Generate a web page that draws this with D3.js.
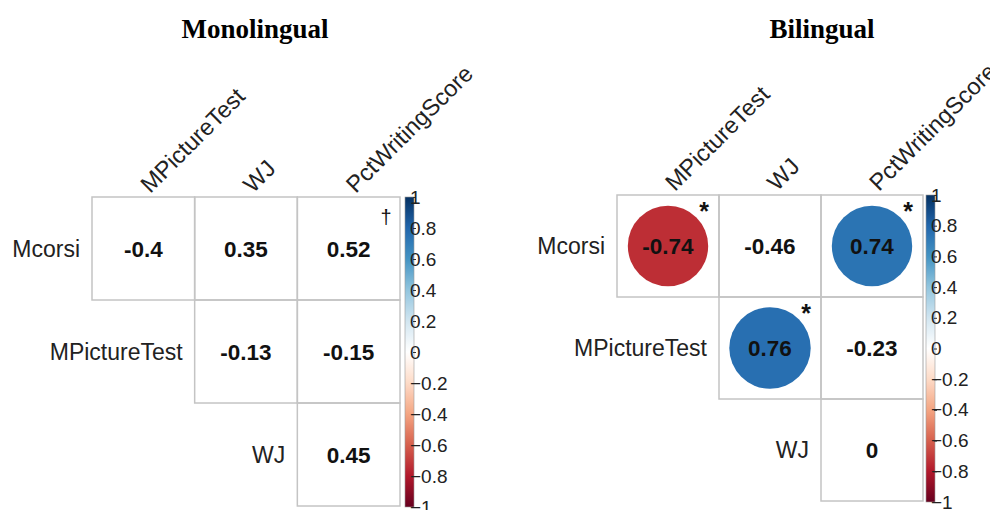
<!DOCTYPE html>
<html>
<head>
<meta charset="utf-8">
<script src="https://cdn.jsdelivr.net/npm/d3@7"></script>
<style>
  html, body { margin: 0; padding: 0; background: #fff; }
  svg { display: block; }
</style>
</head>
<body>
<svg id="chart" width="990" height="510"></svg>
<script>
// Correlation matrices (upper triangle) for the two groups
const rowVars = ["Mcorsi", "MPictureTest", "WJ"];
const colVars = ["MPictureTest", "WJ", "PctWritingScore"];

const monoValues = [
  [-0.4, 0.35, 0.52],
  [null, -0.13, -0.15],
  [null, null, 0.45]
];
const monoMarks = [
  ["", "", "†"],
  ["", "", ""],
  ["", "", ""]
];

const biValues = [
  [-0.74, -0.46, 0.74],
  [null, 0.76, -0.23],
  [null, null, 0]
];
const biMarks = [
  ["*", "", "*"],
  ["", "*", ""],
  ["", "", ""]
];

const legendTicks = [1, 0.8, 0.6, 0.4, 0.2, 0, -0.2, -0.4, -0.6, -0.8, -1];
const rdbu = ["#67001F", "#B2182B", "#D6604D", "#F4A582", "#FDDBC7", "#FFFFFF",
              "#D1E5F0", "#92C5DE", "#4393C3", "#2166AC", "#053061"];

const color = d3.scaleLinear()
  .domain(d3.range(11).map(i => -1 + i * 0.2))
  .range(rdbu)
  .interpolate(d3.interpolateRgb);

const svg = d3.select("#chart");
const sans = "'Liberation Sans', Arial, Helvetica, sans-serif";

// shared colour gradient for the legend bars
const defs = svg.append("defs");
const grad = defs.append("linearGradient")
  .attr("id", "corrGrad")
  .attr("x1", 0).attr("y1", 1).attr("x2", 0).attr("y2", 0);
d3.range(41).forEach(i => {
  const t = i / 40;
  grad.append("stop").attr("offset", t).attr("stop-color", color(-1 + 2 * t));
});

function panel(opts) {
  const { title, titleX, x0, x1, y0, y1, barX, values, marks } = opts;
  const g = svg.append("g");

  const x = d3.scaleBand().domain(colVars).range([x0, x1]);
  const y = d3.scaleBand().domain(rowVars).range([y0, y1]);
  const cw = x.bandwidth(), ch = y.bandwidth();

  g.append("text")
    .attr("x", titleX).attr("y", 38)
    .attr("text-anchor", "middle")
    .style("font-family", "'Liberation Serif', 'Times New Roman', serif")
    .style("font-weight", "bold")
    .style("font-size", "27px")
    .attr("fill", "#000")
    .text(title);

  const cells = [];
  rowVars.forEach((r, i) => colVars.forEach((c, j) => {
    if (values[i][j] !== null) cells.push({ r, c, v: values[i][j], m: marks[i][j] });
  }));

  // cell borders
  g.selectAll("rect.cell").data(cells).join("rect")
    .attr("class", "cell")
    .attr("x", d => x(d.c)).attr("y", d => y(d.r))
    .attr("width", cw).attr("height", ch)
    .attr("fill", "none")
    .attr("stroke", "#c4c4c4")
    .attr("stroke-width", 1.5);

  // circles for significant correlations
  const sig = cells.filter(d => d.m === "*");
  g.selectAll("circle.sig").data(sig).join("circle")
    .attr("class", "sig")
    .attr("cx", d => x(d.c) + cw / 2)
    .attr("cy", d => y(d.r) + ch / 2)
    .attr("r", d => Math.sqrt(Math.abs(d.v)) * Math.min(cw, ch) * 0.458)
    .attr("fill", d => color(d.v));

  // coefficient labels
  g.selectAll("text.val").data(cells).join("text")
    .attr("class", "val")
    .attr("x", d => x(d.c) + cw / 2)
    .attr("y", d => y(d.r) + ch / 2)
    .attr("dy", "0.36em")
    .attr("text-anchor", "middle")
    .style("font-family", sans)
    .style("font-weight", "bold")
    .style("font-size", "22.5px")
    .attr("fill", "#111")
    .text(d => String(d.v));

  // significance marks
  g.selectAll("text.mark").data(cells.filter(d => d.m)).join("text")
    .attr("class", "mark")
    .attr("x", d => x(d.c) + cw - (d.m === "*" ? 15 : 14))
    .attr("y", d => y(d.r) + (d.m === "*" ? 25 : 27))
    .attr("text-anchor", "middle")
    .style("font-family", sans)
    .style("font-weight", d => d.m === "*" ? "bold" : "normal")
    .style("font-size", d => d.m === "*" ? "25px" : "20px")
    .attr("fill", "#111")
    .text(d => d.m);

  // row labels
  g.selectAll("text.row").data(rowVars).join("text")
    .attr("class", "row")
    .attr("x", (d, i) => x(colVars[i]) - 12)
    .attr("y", d => y(d) + ch / 2)
    .attr("dy", "0.36em")
    .attr("text-anchor", "end")
    .style("font-family", sans)
    .style("font-size", "23px")
    .attr("fill", "#222")
    .text(d => d);

  // column labels, rotated
  g.selectAll("text.col").data(colVars).join("text")
    .attr("class", "col")
    .attr("transform", d => `translate(${x(d) + cw / 2 + 7},${y0 - 3}) rotate(-45)`)
    .attr("text-anchor", "start")
    .style("font-family", sans)
    .style("font-size", "23.5px")
    .attr("fill", "#222")
    .text(d => d);

  // colour legend
  const ly = d3.scaleLinear().domain([-1, 1]).range([y1 + 1, y0]);
  const bw = 9;
  g.append("rect")
    .attr("x", barX).attr("y", ly(1))
    .attr("width", bw).attr("height", ly(-1) - ly(1))
    .attr("fill", "url(#corrGrad)")
    .attr("stroke", "#9a9a9a")
    .attr("stroke-width", 0.6);

  const axis = d3.axisRight(ly)
    .tickValues(legendTicks)
    .tickSize(3)
    .tickPadding(-6)
    .tickFormat(d => d3.format("")(+d.toFixed(1)));
  const ag = g.append("g")
    .attr("transform", `translate(${barX + bw - 1},0)`)
    .call(axis);
  ag.select(".domain").remove();
  ag.selectAll(".tick line").attr("stroke", "#333");
  ag.selectAll(".tick text")
    .style("font-family", sans)
    .style("font-size", "19px")
    .attr("fill", "#222");
}

panel({
  title: "Monolingual", titleX: 255,
  x0: 92, x1: 400, y0: 197, y1: 506, barX: 405,
  values: monoValues, marks: monoMarks
});

panel({
  title: "Bilingual", titleX: 822,
  x0: 617, x1: 923, y0: 195, y1: 501, barX: 926,
  values: biValues, marks: biMarks
});
</script>
</body>
</html>
